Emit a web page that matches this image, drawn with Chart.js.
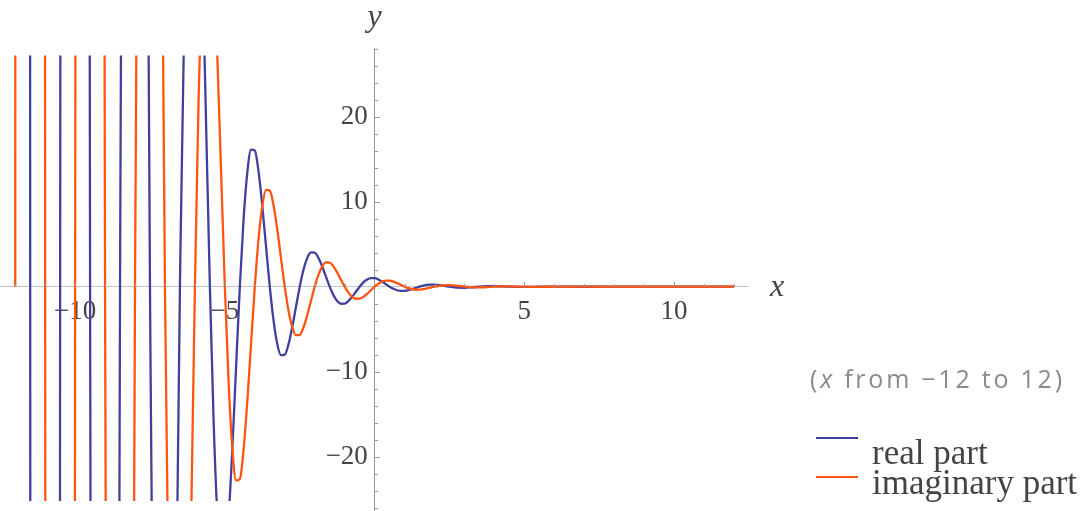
<!DOCTYPE html>
<html><head><meta charset="utf-8">
<script src="https://cdn.jsdelivr.net/npm/chart.js@4.4.1/dist/chart.umd.min.js"></script>
<style>html,body{margin:0;padding:0;background:#fff;overflow:hidden}canvas{display:block}</style>
</head><body>
<canvas id="c" width="1080" height="511"></canvas>
<script>
// x sample positions
const xValues = [
  -12,-11.75,-11.5,-11.25,-11,-10.75,-10.5,-10.25,-10,-9.75,-9.5,-9.25,-9,-8.75,-8.5,-8.25,-8,-7.75,-7.5,-7.25,-7,-6.75,-6.5,-6.25,
  -6,-5.875,-5.75,-5.625,-5.5,-5.375,-5.25,-5.125,-5,-4.875,-4.75,-4.625,-4.5,-4.375,-4.25,-4.125,
  -4,-3.875,-3.75,-3.625,-3.5,-3.375,-3.25,-3.125,-3,-2.875,-2.75,-2.625,-2.5,-2.375,-2.25,-2.125,
  -2,-1.875,-1.75,-1.625,-1.5,-1.375,-1.25,-1.125,-1,-0.875,-0.75,-0.625,-0.5,-0.375,-0.25,-0.125,
  0,0.125,0.25,0.375,0.5,0.625,0.75,0.875,1,1.125,1.25,1.375,1.5,1.625,1.75,1.875,2,
  2.25,2.5,2.75,3,3.25,3.5,3.75,4,4.5,5,5.5,6,7,8,9,10,11,12
];
// real part values
const realPart = [
  4096,2435,0,-1722,-2048,-1218,0,861,1024,609,0,-430,-512,-304,0,215,256,152,0,-108,-128,-76,0,54,
  64,54.22,38.06,18.89,0,-15.88,-26.91,-32.24,-32,-27.11,-19.03,-9.44,0,7.94,13.46,16.12,
  16,13.55,9.51,4.72,0,-3.97,-6.73,-8.06,-8,-6.78,-4.76,-2.36,0,1.99,3.36,4.03,
  4,3.39,2.38,1.18,0,-0.99,-1.68,-2.01,-2,-1.69,-1.19,-0.59,0,0.50,0.84,1.01,
  1,0.85,0.59,0.30,0,-0.25,-0.42,-0.50,-0.5,-0.42,-0.30,-0.15,0,0.12,0.21,0.25,0.25,
  0.15,0,-0.11,-0.125,-0.07,0,0.05,0.06,0,-0.03,0,0.016,-0.008,0.004,-0.002,0.001,0,0
];
// imaginary part values
const imaginaryPart = [
  0,2435,2896,1722,0,-1218,-1448,-861,0,609,724,430,0,-304,-362,-215,0,152,181,108,0,-76,-90.5,-54,
  0,22.46,38.06,45.59,45.25,38.34,26.91,13.36,0,-11.23,-19.03,-22.80,-22.63,-19.17,-13.46,-6.68,
  0,5.61,9.51,11.40,11.31,9.58,6.73,3.34,0,-2.81,-4.76,-5.70,-5.66,-4.79,-3.36,-1.67,
  0,1.40,2.38,2.85,2.83,2.39,1.68,0.83,0,-0.70,-1.19,-1.42,-1.41,-1.20,-0.84,-0.42,
  0,0.35,0.59,0.71,0.71,0.60,0.42,0.21,0,-0.18,-0.30,-0.36,-0.35,-0.30,-0.21,-0.10,0,
  0.15,0.18,0.11,0,-0.07,-0.09,-0.05,0,0.04,0,-0.02,0,0,0,0,0,0,0
];
const xTickLabels = [-10,-5,5,10];
const yTickLabels = [-20,-10,10,20];
const xMinorTicks = [-12,-11,-10,-9,-8,-7,-6,-5,-4,-3,-2,-1,1,2,3,4,5,6,7,8,9,10,11,12];
const yMinorTicks = [-26,-24,-22,-20,-18,-16,-14,-12,-10,-8,-6,-4,-2,2,4,6,8,10,12,14,16,18,20,22,24,26,28];
const seriesNames = ['real part','imaginary part'];
const seriesColors = ['#40409f','#ff5511'];
const rangeNote = {open:'(', variable:'x', rest:' from \u221212 to 12)'};

const fmt = v => (v < 0 ? '\u2212' + Math.abs(v) : String(v));
const pts = arr => xValues.map((x,i) => ({x, y: arr[i]}));
const noSpace = (s, horiz) => {
  if (horiz) s.height = 0; else s.width = 0;
  s.paddingTop = 0; s.paddingBottom = 0; s.paddingLeft = 0; s.paddingRight = 0;
};

const decor = {
  id: 'decor',
  afterDraw(chart) {
    const ctx = chart.ctx, xs = chart.scales.x, ys = chart.scales.y;
    const x0 = xs.getPixelForValue(0), y0 = ys.getPixelForValue(0);
    ctx.save();
    ctx.strokeStyle = '#999'; ctx.lineWidth = 1;
    ctx.beginPath();
    xMinorTicks.forEach(v => {
      const p = Math.round(xs.getPixelForValue(v)) + 0.5;
      const len = (v % 5 === 0) ? 5 : 3;
      ctx.moveTo(p, Math.round(y0)); ctx.lineTo(p, Math.round(y0) - len);
    });
    yMinorTicks.forEach(v => {
      const p = Math.round(ys.getPixelForValue(v)) + 0.5;
      const len = (v % 10 === 0) ? 5 : 3;
      ctx.moveTo(Math.round(x0), p); ctx.lineTo(Math.round(x0) + len, p);
    });
    ctx.stroke();
    // axis titles
    ctx.fillStyle = '#444';
    ctx.font = 'italic 32px "Liberation Serif"';
    ctx.textAlign = 'center'; ctx.textBaseline = 'alphabetic';
    ctx.fillText('y', x0, 26);
    ctx.fillText('x', 777, y0 + 9);
    // range note, fitted between x=810 and x=1062
    ctx.fillStyle = '#8a8a8a';
    ctx.textAlign = 'left';
    const fs = 25;
    ctx.font = fs + 'px "Open Sans"';
    const wOpen = ctx.measureText(rangeNote.open).width;
    const wRest = ctx.measureText(rangeNote.rest).width;
    ctx.font = 'italic ' + fs + 'px "Open Sans"';
    const wVar = ctx.measureText(rangeNote.variable).width;
    const nChars = rangeNote.open.length + rangeNote.variable.length + rangeNote.rest.length;
    const sp = Math.max(0, (252 - (wOpen + wVar + wRest)) / (nChars - 1));
    ctx.letterSpacing = sp + 'px';
    let cx = 810;
    ctx.font = fs + 'px "Open Sans"';
    ctx.fillText(rangeNote.open, cx, 388); cx += wOpen + sp;
    ctx.font = 'italic ' + fs + 'px "Open Sans"';
    ctx.fillText(rangeNote.variable, cx, 388); cx += wVar + sp;
    ctx.font = fs + 'px "Open Sans"';
    ctx.fillText(rangeNote.rest, cx, 388);
    ctx.letterSpacing = '0px';
    // legend
    const ly = [438, 477], ty = [464, 494];
    seriesNames.forEach((n,i) => {
      ctx.strokeStyle = seriesColors[i]; ctx.lineWidth = 2;
      ctx.beginPath(); ctx.moveTo(816, ly[i]); ctx.lineTo(858, ly[i]); ctx.stroke();
      ctx.fillStyle = '#444';
      ctx.font = '35px "Liberation Serif"';
      ctx.fillText(n, 872, ty[i]);
    });
    ctx.restore();
  }
};

const clipArea = {left: 0, right: 0, top: -7.5, bottom: -10};
new Chart(document.getElementById('c'), {
  type: 'line',
  data: {
    datasets: [
      {label: seriesNames[0], data: pts(realPart), borderColor: seriesColors[0], borderWidth: 2.3, pointRadius: 0, cubicInterpolationMode: 'monotone', order: 1, clip: clipArea},
      {label: seriesNames[1], data: pts(imaginaryPart), borderColor: seriesColors[1], borderWidth: 2.3, pointRadius: 0, cubicInterpolationMode: 'monotone', order: 0, clip: clipArea}
    ]
  },
  options: {
    responsive: false, animation: false, devicePixelRatio: 1,
    layout: {padding: {left: 0, right: 333, top: 48, bottom: 0}},
    plugins: {legend: {display: false}, tooltip: {enabled: false}},
    scales: {
      x: {
        type: 'linear', min: -12.508, max: 12.434, position: {y: 0},
        afterBuildTicks: s => { s.ticks = xTickLabels.map(v => ({value: v})); },
        afterFit: s => noSpace(s, true),
        ticks: {callback: fmt, autoSkip: false, maxRotation: 0, padding: 9, color: '#444', font: {family: 'Liberation Serif', size: 27}},
        grid: {display: false, drawTicks: false},
        border: {display: true, color: '#c4c4c4', width: 1}
      },
      y: {
        type: 'linear', min: -26.39, max: 28.08, position: {x: 0},
        afterBuildTicks: s => { s.ticks = yTickLabels.map(v => ({value: v})); },
        afterFit: s => noSpace(s, false),
        ticks: {callback: v => fmt(v) + ' ', autoSkip: false, padding: 0, color: '#444', font: {family: 'Liberation Serif', size: 27}},
        grid: {display: false, drawTicks: false},
        border: {display: true, color: '#999', width: 1}
      }
    }
  },
  plugins: [decor]
});
</script>
</body></html>
